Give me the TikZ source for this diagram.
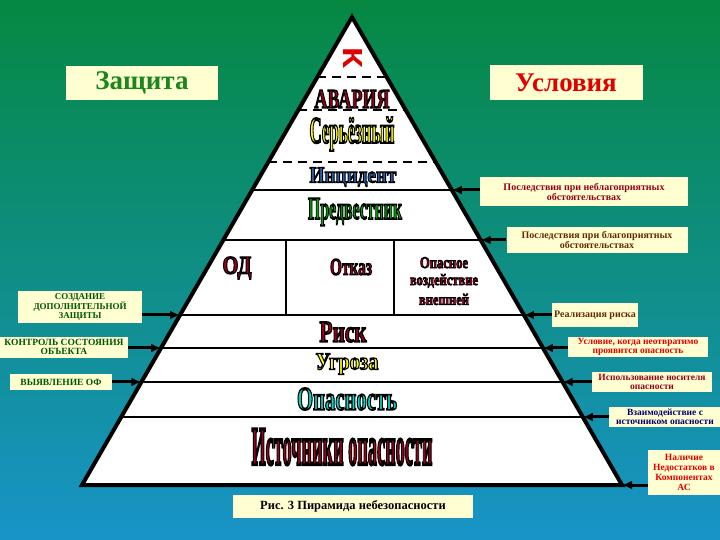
\documentclass[tikz,border=0pt]{standalone}
\usepackage{fontspec}
\usepackage{graphicx}
\setmainfont{Liberation Serif}
\newfontfamily\blockfont{Liberation Sans}
\usetikzlibrary{calc,arrows.meta}
\definecolor{bgtop}{RGB}{6,136,66}
\definecolor{bgmid}{RGB}{0,110,108}
\definecolor{bgbot}{RGB}{24,148,200}
\definecolor{notefill}{RGB}{255,255,210}
\definecolor{darkred}{RGB}{150,0,25}
\definecolor{alarm}{RGB}{225,0,0}
\definecolor{deepgreen}{RGB}{0,85,0}
\definecolor{guardgreen}{RGB}{25,135,25}
\definecolor{incblue}{RGB}{40,95,175}
\definecolor{signgreen}{RGB}{0,165,0}
\definecolor{dangcyan}{RGB}{0,215,200}
\definecolor{rust}{RGB}{105,40,0}
\definecolor{navy}{RGB}{0,0,115}
\definecolor{pale}{RGB}{255,255,0}
% outlined text: fill in colour, stroke in black
\newcommand{\outtext}[2]{{\color{#1}%
    \special{pdf:literal direct 0 0 0 RG 0.5 w 2 Tr}#2%
    \special{pdf:literal direct 0 Tr}}}
\newcommand{\pyr}[4]{\resizebox{#2pt}{#3pt}{\bfseries\outtext{#1}{#4}}}

\begin{document}
\begin{tikzpicture}[x=1pt, y=-1pt,
    note/.style={fill=notefill, inner sep=1pt, align=center,
        font=\bfseries\fontsize{10}{10.5}\selectfont},
    tier/.style={line width=2.5pt},
    crack/.style={line width=2pt, dash pattern=on 9pt off 6pt},
    feed/.style={line width=3pt, -{Latex[length=10pt,width=9pt]}}]

    \shade[top color=bgtop, middle color=bgmid, bottom color=bgbot]
        (0,0) rectangle (720,540);
    \useasboundingbox (0,0) rectangle (720,540);

    % pyramid
    \coordinate (apex) at (352,17);
    \coordinate (bl) at (82,485);
    \coordinate (br) at (622,485);
    \fill[white] (apex) -- (bl) -- (br) -- cycle;
    \foreach \y in {77,110,162}
        \draw[crack] ($(apex)!{(\y-17)/468}!(bl)$) -- ($(apex)!{(\y-17)/468}!(br)$);
    \foreach \y in {190,240,315,348,382,417} {
        \coordinate (l\y) at ($(apex)!{(\y-17)/468}!(bl)$);
        \coordinate (r\y) at ($(apex)!{(\y-17)/468}!(br)$);
        \draw[tier] (l\y) -- (r\y);
    }
    \draw[tier] (286,240) -- (286,315);
    \draw[tier] (394,240) -- (394,315);
    \draw[line width=4pt] (apex) -- (bl) -- (br) -- cycle;

    % levels
    \node[rotate=-90, text=alarm, inner sep=0pt] (k) at (353,58)
        {\resizebox{21pt}{19pt}{\blockfont\bfseries К}};
    \node (crash) at (352,99) {\pyr{darkred}{75}{18}{АВАРИЯ}};
    \node (grave) at (352,134) {\pyr{pale}{85}{26}{Серьёзный}};
    \node (incid) at (353,177) {\pyr{incblue}{87}{15}{Инцидент}};
    \node (omen) at (355,212) {\pyr{signgreen}{94}{21}{Предвестник}};
    \node (od) at (237,268) {\pyr{darkred}{29}{17}{ОД}};
    \node (fail) at (351,267) {\pyr{darkred}{42}{16}{Отказ}};
    \node[align=center, inner sep=0pt] (ext) at (444,281)
        {\pyr{darkred}{48}{11}{Опасное}\\[5pt]
         \pyr{darkred}{68}{11}{воздействие}\\[5pt]
         \pyr{darkred}{50}{11}{внешней}};
    \node (risk) at (343,332) {\pyr{darkred}{47}{20}{Риск}};
    \node (threat) at (347,364) {\pyr{pale}{63}{16}{Угроза}};
    \node (danger) at (347,399) {\pyr{dangcyan}{100}{22}{Опасность}};
    \node (source) at (342,447) {\pyr{darkred}{181}{36}{Источники опасности}};

    % headings
    \node[note, minimum width=152pt, minimum height=34pt, text=guardgreen,
        font=\bfseries\fontsize{27}{27}\selectfont] (guard) at (142,83) {Защита};
    \node[note, minimum width=153pt, minimum height=35pt, text=alarm,
        font=\bfseries\fontsize{27}{27}\selectfont] (cond) at (566,83) {Условия};

    % protection side
    \node[note, minimum width=124pt, minimum height=32pt, text=deepgreen,
        font=\bfseries\fontsize{9}{9}\selectfont] (extra) at (80,307)
        {СОЗДАНИЕ\\ДОПОЛНИТЕЛЬНОЙ\\ЗАЩИТЫ};
    \node[note, minimum width=128pt, minimum height=21pt, text=deepgreen,
        font=\bfseries\fontsize{9.5}{9.5}\selectfont] (watch) at (64,347)
        {КОНТРОЛЬ СОСТОЯНИЯ\\ОБЪЕКТА};
    \node[note, minimum width=102pt, minimum height=16pt, text=deepgreen,
        font=\bfseries\fontsize{9.5}{9.5}\selectfont] (spot) at (61,382)
        {ВЫЯВЛЕНИЕ ОФ};
    \draw[feed] (extra.east |- l315) -- (l315);
    \draw[feed] (watch.east |- l348) -- (l348);
    \draw[feed] (spot.east |- l382) -- (l382);

    % condition side
    \node[note, minimum width=208pt, minimum height=29pt, text=darkred] (bad) at (584,192)
        {Последствия при неблагоприятных\\обстоятельствах};
    \node[note, minimum width=181pt, minimum height=25pt, text=rust] (good) at (597,240)
        {Последствия при благоприятных\\обстоятельствах};
    \node[note, minimum width=86pt, minimum height=24pt, text=rust] (real) at (595,315)
        {Реализация риска};
    \node[note, minimum width=140pt, minimum height=20pt, text=alarm,
        font=\bfseries\fontsize{9.5}{9.5}\selectfont] (when) at (638,347)
        {Условие, когда неотвратимо\\проявится опасность};
    \node[note, minimum width=120pt, minimum height=20pt, text=darkred,
        font=\bfseries\fontsize{9.5}{9.5}\selectfont] (carrier) at (652,382)
        {Использование носителя\\опасности};
    \node[note, minimum width=112pt, minimum height=20pt, text=navy,
        font=\bfseries\fontsize{9.5}{9.5}\selectfont] (contact) at (665,417)
        {Взаимодействие с\\источником опасности};
    \node[note, minimum width=72pt, minimum height=45pt, text=alarm,
        font=\bfseries\fontsize{9.5}{10}\selectfont] (lack) at (684,472)
        {Наличие\\Недостатков в\\Компонентах\\АС};
    \draw[feed] (bad.west |- r190) -- (r190);
    \draw[feed] (good.west |- r240) -- (r240);
    \draw[feed] (real.west |- r315) -- (r315);
    \draw[feed] (when.west |- r348) -- (r348);
    \draw[feed] (carrier.west |- r382) -- (r382);
    \draw[feed] (contact.west |- r417) -- (r417);
    \draw[feed] (lack.west |- br) -- (br);

    \node[note, minimum width=240pt, minimum height=23pt,
        font=\bfseries\fontsize{12.5}{12.5}\selectfont] (caption) at (353,506)
        {Рис. 3 Пирамида небезопасности};
\end{tikzpicture}
\end{document}
